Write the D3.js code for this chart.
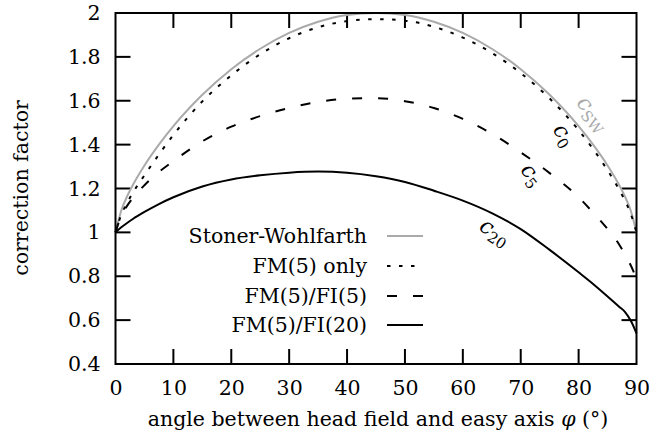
<!DOCTYPE html>
<html>
<head>
<meta charset="utf-8">
<script src="https://cdn.jsdelivr.net/npm/d3@7"></script>
<style>
  body { margin: 0; background: #fff; }
</style>
</head>
<body>
<div class="board"></div>
<script>
/*
=================================
DATA
=================================
*/
var angles = [0, 1, 2, 3, 5, 7.5, 10, 15, 20, 25, 30, 35, 40, 45, 50, 55, 60, 65, 70, 75, 80, 82.5, 85, 87, 88, 89, 90];

var stonerWohlfarth = [1, 1.10, 1.164, 1.216, 1.305, 1.400, 1.484, 1.627, 1.744, 1.837, 1.909, 1.960, 1.991, 2.0, 1.991, 1.960, 1.909, 1.837, 1.744, 1.627, 1.484, 1.400, 1.305, 1.216, 1.164, 1.10, 1.0];
var fm5Only = [1, 1.08, 1.134, 1.181, 1.26, 1.355, 1.444, 1.597, 1.716, 1.812, 1.885, 1.935, 1.963, 1.972, 1.965, 1.937, 1.888, 1.818, 1.726, 1.61, 1.466, 1.38, 1.283, 1.195, 1.145, 1.085, 1.0];
var fm5Fi5 = [1, 1.076, 1.121, 1.157, 1.215, 1.275, 1.325, 1.415, 1.482, 1.530, 1.567, 1.595, 1.609, 1.612, 1.598, 1.567, 1.517, 1.45, 1.365, 1.27, 1.16, 1.09, 1.015, 0.945, 0.90, 0.85, 0.79];
var fm5Fi20 = [1, 1.023, 1.043, 1.061, 1.093, 1.129, 1.160, 1.209, 1.241, 1.260, 1.272, 1.277, 1.272, 1.256, 1.23, 1.19, 1.145, 1.088, 1.015, 0.92, 0.818, 0.765, 0.708, 0.661, 0.638, 0.598, 0.54];

var xTicks = [0, 10, 20, 30, 40, 50, 60, 70, 80, 90];
var yTicks = [0.4, 0.6, 0.8, 1, 1.2, 1.4, 1.6, 1.8, 2];

var legendNames = ['Stoner-Wohlfarth', 'FM(5) only', 'FM(5)/FI(5)', 'FM(5)/FI(20)'];

/*
=================================
CREATE BACKGROUND CONTAINER
=================================
*/
var chartFont = '"DejaVu Serif", "DejaVu Sans", sans-serif';
var fontSize = 20.5;

var svgContainer = d3.select('.board').append('svg')
                     .attr('width', 663)
                     .attr('height', 442)
                     .attr('font-family', chartFont);

var x = d3.scaleLinear().domain([0, 90]).range([115.5, 636.5]);
var y = d3.scaleLinear().domain([0.4, 2]).range([364, 13]);

var tickLen = 15;

// ============================
// SERIES STYLES
// ============================
var series = [
  { name: legendNames[0], values: stonerWohlfarth, color: '#aaaaaa', dash: null },
  { name: legendNames[1], values: fm5Only, color: '#000', dash: '3.5,8.5' },
  { name: legendNames[2], values: fm5Fi5, color: '#000', dash: '10,16' },
  { name: legendNames[3], values: fm5Fi20, color: '#000', dash: null }
];

/*
=================================
AXES
=================================
*/
var bottomAxis = d3.axisBottom(x).tickValues(xTicks).tickSize(0).tickPadding(16).tickFormat(d3.format('d'));
var leftAxis = d3.axisLeft(y).tickValues(yTicks).tickSize(0).tickPadding(15).tickFormat(d3.format(''));

var gx = svgContainer.append('g').attr('transform', 'translate(0,364)').call(bottomAxis);
var gy = svgContainer.append('g').attr('transform', 'translate(115.5,0)').call(leftAxis);

[gx, gy].forEach(function(g) {
  g.attr('font-family', chartFont).attr('font-size', fontSize);
  g.select('.domain').remove();
  g.selectAll('text').attr('fill', '#000');
});

// inward ticks on all four sides
var innerX = xTicks.slice(1, -1);
var innerY = yTicks.slice(1, -1);

svgContainer.selectAll('.tb').data(innerX).enter().append('line')
  .attr('x1', d => x(d)).attr('x2', d => x(d))
  .attr('y1', 364).attr('y2', 364 - tickLen)
  .attr('stroke', '#000').attr('stroke-width', 2);

svgContainer.selectAll('.tt').data(innerX).enter().append('line')
  .attr('x1', d => x(d)).attr('x2', d => x(d))
  .attr('y1', 13).attr('y2', 13 + tickLen)
  .attr('stroke', '#000').attr('stroke-width', 2);

svgContainer.selectAll('.tl').data(innerY).enter().append('line')
  .attr('x1', 115.5).attr('x2', 115.5 + tickLen)
  .attr('y1', d => y(d)).attr('y2', d => y(d))
  .attr('stroke', '#000').attr('stroke-width', 2);

svgContainer.selectAll('.tr').data(innerY).enter().append('line')
  .attr('x1', 636.5).attr('x2', 636.5 - tickLen)
  .attr('y1', d => y(d)).attr('y2', d => y(d))
  .attr('stroke', '#000').attr('stroke-width', 2);

// axis titles
svgContainer.append('text')
  .attr('x', 378).attr('y', 426)
  .attr('text-anchor', 'middle')
  .attr('font-size', fontSize)
  .html('angle between head field and easy axis <tspan font-style="italic">φ</tspan> (°)');

svgContainer.append('text')
  .attr('transform', 'translate(28,188) rotate(-90)')
  .attr('text-anchor', 'middle')
  .attr('font-size', fontSize)
  .text('correction factor');

/*
=================================
CURVES
=================================
*/
var line = d3.line()
  .x(d => x(d[0]))
  .y(d => y(d[1]))
  .curve(d3.curveMonotoneX);

series.forEach(function(s) {
  var pts = angles.map(function(a, i) { return [a, s.values[i]]; });
  svgContainer.append('path')
    .datum(pts)
    .attr('d', line)
    .attr('fill', 'none')
    .attr('stroke', s.color)
    .attr('stroke-width', 2)
    .attr('stroke-dasharray', s.dash);
});

// frame on top
svgContainer.append('rect')
  .attr('x', 115.5).attr('y', 13)
  .attr('width', 521).attr('height', 351)
  .attr('fill', 'none')
  .attr('stroke', '#000')
  .attr('stroke-width', 2);

/*
=================================
LEGEND
=================================
*/
var legendY = [236, 266, 296, 325];

series.forEach(function(s, i) {
  svgContainer.append('text')
    .attr('x', 367).attr('y', legendY[i])
    .attr('dy', '0.35em')
    .attr('text-anchor', 'end')
    .attr('font-size', fontSize)
    .text(s.name);

  svgContainer.append('line')
    .attr('x1', 387).attr('x2', 423)
    .attr('y1', legendY[i]).attr('y2', legendY[i])
    .attr('stroke', s.color)
    .attr('stroke-width', 2)
    .attr('stroke-dasharray', s.dash);
});

/*
=================================
CURVE LABELS
=================================
*/
var curveLabels = [
  { sub: 'SW', x: 590, y: 116, angle: 52, color: '#aaaaaa' },
  { sub: '0', x: 561, y: 137, angle: 56, color: '#000' },
  { sub: '5', x: 529, y: 177, angle: 52, color: '#000' },
  { sub: '20', x: 493, y: 235, angle: 33, color: '#000' }
];

curveLabels.forEach(function(l) {
  var t = svgContainer.append('text')
    .attr('transform', 'translate(' + l.x + ',' + l.y + ') rotate(' + l.angle + ')')
    .attr('text-anchor', 'middle')
    .attr('dy', '0.2em')
    .attr('fill', l.color);
  t.append('tspan').attr('font-style', 'italic').attr('font-size', 22).text('c');
  t.append('tspan').attr('dy', '0.3em').attr('font-size', 15).text(l.sub);
});
</script>
</body>
</html>
